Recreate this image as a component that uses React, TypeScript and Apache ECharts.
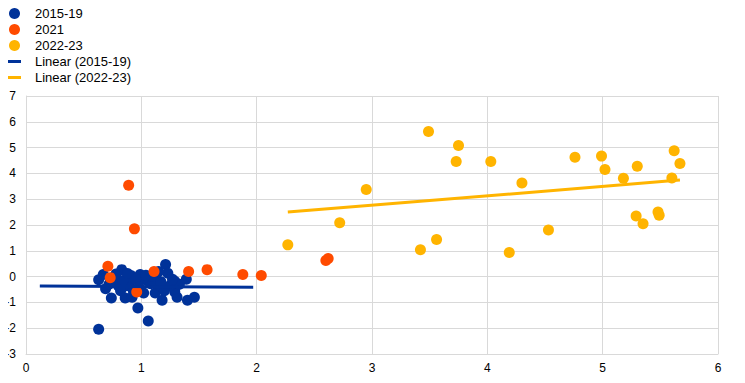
import React, { useEffect, useRef } from "react";
import * as echarts from "echarts";

const xTicks = [0, 1, 2, 3, 4, 5, 6];
const yTicks = [-3, -2, -1, 0, 1, 2, 3, 4, 5, 6, 7];

const pts2015: number[][] = [
  [0.63, -2.04], [1.06, -1.72], [0.97, -1.22], [1.18, -0.92], [0.74, -0.83], [0.86, -0.83],
  [0.92, -0.8], [1.31, -0.8], [1.40, -0.92], [1.46, -0.8], [1.02, -0.64], [1.12, -0.64],
  [1.29, -0.6], [0.69, -0.47], [0.63, -0.12], [0.67, 0.08], [0.83, 0.27], [1.21, 0.47],
  [1.23, 0.13], [1.39, -0.1], [0.99, 0.08], [0.91, 0.04], [0.76, -0.15], [1.05, -0.15],
  [1.13, -0.09], [1.29, -0.18], [1.29, -0.47], [0.87, -0.35], [0.96, -0.54], [0.80, -0.35],
  [1.16, -0.35], [1.25, -0.35], [0.90, -0.22], [1.08, -0.28], [1.02, -0.05], [0.84, -0.15],
  [0.78, 0.1], [0.88, 0.12], [0.95, -0.1], [1.1, 0.02], [1.17, -0.2], [0.72, -0.3],
  [1.2, -0.55], [1.33, -0.3], [0.98, -0.4], [1.15, 0.2], [0.93, -0.55], [1.27, -0.1],
  [0.82, -0.55], [1.04, 0.05],
];

const pts2021: number[][] = [
  [0.89, 3.54], [0.94, 1.85], [0.71, 0.40], [0.73, -0.04], [0.96, -0.6], [1.11, 0.20],
  [1.41, 0.20], [1.57, 0.27], [1.88, 0.08], [2.04, 0.04], [2.60, 0.62], [2.62, 0.70],
];

const pts2022: number[][] = [
  [2.27, 1.23], [2.72, 2.09], [2.95, 3.38], [3.49, 5.62], [3.75, 5.08], [3.73, 4.46],
  [4.03, 4.46], [3.42, 1.04], [3.56, 1.44], [4.30, 3.63], [4.53, 1.81], [4.19, 0.93],
  [4.76, 4.63], [4.99, 4.67], [5.02, 4.15], [5.18, 3.81], [5.30, 4.28], [5.29, 2.35],
  [5.35, 2.05], [5.48, 2.50], [5.49, 2.38], [5.60, 3.82], [5.62, 4.88], [5.67, 4.38],
];

const trend2015: number[][] = [[0.12, -0.36], [1.97, -0.41]];
const trend2022: number[][] = [[2.27, 2.5], [5.67, 3.74]];

const BLUE = "#003299";
const ORANGE = "#ff4b00";
const YELLOW = "#ffb400";
const FONT = "Liberation Sans, Arial, sans-serif";
const BAR_ICON = "path://M0,0M0,4H13V7H0Z M0,11";

export default function App() {
  const ref = useRef<HTMLDivElement>(null);
  useEffect(() => {
    if (!ref.current) return;
    const chart = echarts.init(ref.current, null, { renderer: "svg" });
    chart.setOption({
      animation: false,
      backgroundColor: "#ffffff",
      legend: {
        orient: "vertical",
        left: 3,
        top: 2,
        itemWidth: 13,
        itemHeight: 11,
        itemGap: 3,
        textStyle: { fontFamily: FONT, fontSize: 13, lineHeight: 13, color: "#000", padding: [0, 0, 0, 9] },
        data: [
          { name: "2015-19", icon: "circle" },
          { name: "2021", icon: "circle" },
          { name: "2022-23", icon: "circle" },
          { name: "Linear (2015-19)", icon: BAR_ICON },
          { name: "Linear (2022-23)", icon: BAR_ICON },
        ],
      },
      grid: { left: 26, right: 27, top: 96, bottom: 29, containLabel: false },
      xAxis: {
        type: "value",
        min: xTicks[0],
        max: xTicks[xTicks.length - 1],
        interval: 1,
        axisLine: { onZero: false, lineStyle: { color: "#d9d9d9" } },
        axisTick: { show: false },
        splitLine: { show: true, lineStyle: { color: "#d9d9d9" } },
        axisLabel: { fontFamily: FONT, fontSize: 12, color: "#000", margin: 8 },
      },
      yAxis: {
        type: "value",
        min: yTicks[0],
        max: yTicks[yTicks.length - 1],
        interval: 1,
        axisLine: { show: true, onZero: false, lineStyle: { color: "#d9d9d9" } },
        axisTick: { show: false },
        splitLine: { show: true, lineStyle: { color: "#d9d9d9" } },
        axisLabel: { fontFamily: FONT, fontSize: 12, color: "#000", margin: 10 },
      },
      series: [
        { name: "2015-19", type: "scatter", data: pts2015, symbolSize: 11, itemStyle: { color: BLUE, opacity: 1 } },
        { name: "2021", type: "scatter", data: pts2021, symbolSize: 11, itemStyle: { color: ORANGE, opacity: 1 } },
        { name: "2022-23", type: "scatter", data: pts2022, symbolSize: 11, itemStyle: { color: YELLOW, opacity: 1 } },
        {
          name: "Linear (2015-19)", type: "line", data: trend2015, showSymbol: false, z: 5,
          lineStyle: { color: BLUE, width: 3 }, itemStyle: { color: BLUE },
        },
        {
          name: "Linear (2022-23)", type: "line", data: trend2022, showSymbol: false, z: 5,
          lineStyle: { color: YELLOW, width: 3 }, itemStyle: { color: YELLOW },
        },
      ],
    });
    return () => chart.dispose();
  }, []);
  return <div ref={ref} style={{ width: 745, height: 383, margin: -8 }} />;
}
